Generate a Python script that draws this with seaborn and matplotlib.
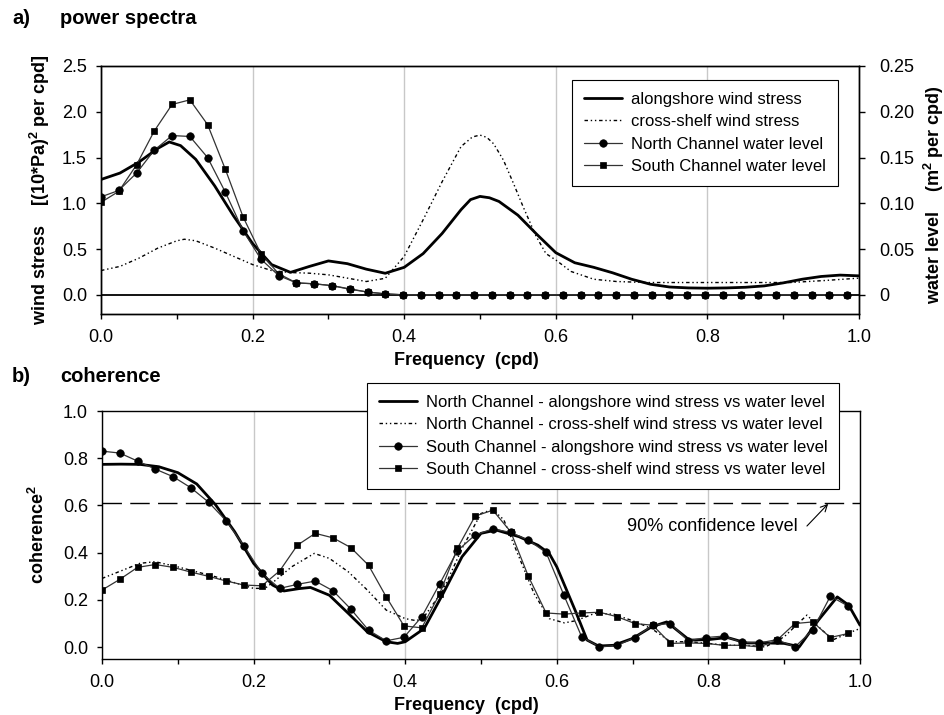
import matplotlib
matplotlib.use("Agg")
import matplotlib.pyplot as plt
import seaborn as sns
from matplotlib.ticker import MultipleLocator, FormatStrFormatter

# ---------------- data ----------------
# spectral estimate frequencies (cpd) for the water-level / marker series
freq = [0.0000, 0.0234, 0.0469, 0.0703, 0.0938, 0.1172, 0.1406, 0.1641, 0.1875,
        0.2109, 0.2344, 0.2578, 0.2813, 0.3047, 0.3281, 0.3516, 0.3750, 0.3984,
        0.4219, 0.4453, 0.4688, 0.4922, 0.5156, 0.5391, 0.5625, 0.5859, 0.6094,
        0.6328, 0.6563, 0.6797, 0.7031, 0.7266, 0.7500, 0.7734, 0.7969, 0.8203,
        0.8438, 0.8672, 0.8906, 0.9141, 0.9375, 0.9609, 0.9844]

# power spectra: wind stress [(10*Pa)^2 per cpd]
along_freq = [0.000, 0.025, 0.050, 0.075, 0.090, 0.105, 0.125, 0.150, 0.175, 0.200,
              0.225, 0.250, 0.275, 0.300, 0.325, 0.350, 0.375, 0.400, 0.425, 0.450,
              0.475, 0.4875, 0.500, 0.5125, 0.525, 0.550, 0.575, 0.600, 0.625, 0.650,
              0.675, 0.700, 0.725, 0.750, 0.775, 0.800, 0.825, 0.850, 0.875, 0.900,
              0.925, 0.950, 0.975, 1.000]
alongshore_ws = [1.26, 1.33, 1.45, 1.60, 1.67, 1.63, 1.48, 1.19, 0.86, 0.56,
                 0.33, 0.245, 0.31, 0.37, 0.34, 0.28, 0.235, 0.30, 0.45, 0.67,
                 0.93, 1.04, 1.075, 1.06, 1.02, 0.87, 0.66, 0.46, 0.35, 0.30,
                 0.24, 0.17, 0.115, 0.085, 0.075, 0.072, 0.075, 0.082, 0.097, 0.13,
                 0.17, 0.20, 0.215, 0.207]

cross_freq = [0.000, 0.025, 0.050, 0.075, 0.100, 0.110, 0.125, 0.150, 0.175, 0.200,
              0.225, 0.250, 0.275, 0.300, 0.325, 0.350, 0.375, 0.400, 0.425, 0.450,
              0.475, 0.490, 0.500, 0.509, 0.518, 0.531, 0.544, 0.557, 0.574, 0.587,
              0.600, 0.620, 0.650, 0.680, 0.720, 0.800, 0.910, 0.955, 1.000]
crossshelf_ws = [0.265, 0.31, 0.40, 0.51, 0.59, 0.607, 0.59, 0.51, 0.42, 0.33,
                 0.265, 0.243, 0.236, 0.218, 0.182, 0.145, 0.18, 0.42, 0.82, 1.235,
                 1.62, 1.725, 1.745, 1.72, 1.65, 1.47, 1.22, 0.96, 0.64, 0.45,
                 0.38, 0.255, 0.17, 0.145, 0.134, 0.134, 0.134, 0.156, 0.182]

# power spectra: water level (m^2 per cpd)
north_wl = [0.107, 0.114, 0.133, 0.158, 0.174, 0.173, 0.150, 0.112, 0.070, 0.039,
            0.021, 0.013, 0.012, 0.010, 0.0065, 0.003, 0.001, 0.0, 0.0, 0.0,
            0.0, 0.0, 0.0, 0.0, 0.0, 0.0, 0.0, 0.0, 0.0, 0.0,
            0.0, 0.0, 0.0, 0.0, 0.0, 0.0, 0.0, 0.0, 0.0, 0.0,
            0.0, 0.0, 0.0]
south_wl = [0.101, 0.113, 0.142, 0.179, 0.208, 0.213, 0.186, 0.137, 0.085, 0.045,
            0.023, 0.013, 0.012, 0.010, 0.006, 0.003, 0.001, 0.0, 0.0, 0.0,
            0.0, 0.0, 0.0, 0.0, 0.0, 0.0, 0.0, 0.0, 0.0, 0.0,
            0.0, 0.0, 0.0, 0.0, 0.0, 0.0, 0.0, 0.0, 0.0, 0.0,
            0.0, 0.0, 0.0]

# coherence^2
nc_along_freq = [0.000, 0.025, 0.050, 0.075, 0.100, 0.125, 0.150, 0.175, 0.200, 0.225,
                 0.240, 0.260, 0.275, 0.300, 0.325, 0.350, 0.375, 0.390, 0.400, 0.425,
                 0.450, 0.475, 0.500, 0.520, 0.550, 0.575, 0.590, 0.600, 0.625, 0.640,
                 0.655, 0.675, 0.700, 0.725, 0.745, 0.775, 0.800, 0.825, 0.850, 0.875,
                 0.900, 0.920, 0.945, 0.970, 0.985, 1.000]
nc_along = [0.774, 0.775, 0.774, 0.764, 0.739, 0.691, 0.602, 0.489, 0.355, 0.263,
            0.238, 0.248, 0.253, 0.22, 0.143, 0.065, 0.023, 0.016, 0.023, 0.079,
            0.227, 0.383, 0.482, 0.496, 0.468, 0.432, 0.397, 0.34, 0.15, 0.03,
            0.005, 0.008, 0.037, 0.086, 0.107, 0.03, 0.032, 0.041, 0.018, 0.018,
            0.016, 0.002, 0.114, 0.213, 0.178, 0.093]

nc_cross_freq = [0.000, 0.025, 0.050, 0.070, 0.100, 0.125, 0.150, 0.175, 0.200, 0.215,
                 0.225, 0.250, 0.280, 0.300, 0.325, 0.350, 0.375, 0.400, 0.415, 0.425,
                 0.450, 0.475, 0.500, 0.515, 0.530, 0.550, 0.570, 0.590, 0.610, 0.625,
                 0.650, 0.675, 0.700, 0.725, 0.750, 0.775, 0.800, 0.825, 0.850, 0.875,
                 0.900, 0.930, 0.950, 0.965, 0.985, 1.000]
nc_cross = [0.291, 0.323, 0.355, 0.362, 0.34, 0.319, 0.298, 0.273, 0.249, 0.249,
            0.273, 0.34, 0.397, 0.376, 0.319, 0.242, 0.157, 0.121, 0.112, 0.129,
            0.242, 0.418, 0.566, 0.583, 0.54, 0.383, 0.227, 0.121, 0.103, 0.112,
            0.143, 0.14, 0.112, 0.079, 0.023, 0.023, 0.016, 0.008, 0.008, 0.001,
            0.044, 0.136, 0.072, 0.032, 0.06, 0.079]

sc_along = [0.830, 0.822, 0.788, 0.754, 0.722, 0.675, 0.614, 0.534, 0.428, 0.312,
            0.249, 0.266, 0.280, 0.239, 0.162, 0.072, 0.027, 0.042, 0.129, 0.267,
            0.408, 0.475, 0.501, 0.486, 0.453, 0.401, 0.220, 0.044, 0.001, 0.008,
            0.041, 0.093, 0.100, 0.027, 0.041, 0.047, 0.021, 0.018, 0.032, 0.001,
            0.072, 0.216, 0.174]
sc_cross = [0.242, 0.287, 0.338, 0.350, 0.338, 0.318, 0.300, 0.280, 0.263, 0.260,
            0.323, 0.432, 0.482, 0.463, 0.422, 0.347, 0.213, 0.090, 0.082, 0.225,
            0.418, 0.555, 0.580, 0.489, 0.300, 0.145, 0.140, 0.145, 0.148, 0.129,
            0.100, 0.093, 0.016, 0.018, 0.016, 0.008, 0.008, 0.001, 0.030, 0.100,
            0.107, 0.041, 0.058]

conf_level = 0.61
wl_ticks = [0.0, 0.05, 0.10, 0.15, 0.20, 0.25]
wl_tick_labels = ["0", "0.05", "0.10", "0.15", "0.20", "0.25"]

# ---------------- style ----------------
sns.set_theme(style="ticks")
plt.rcParams["font.family"] = ["Liberation Sans", "DejaVu Sans"]
plt.rcParams.update({
    "mathtext.fontset": "custom",
    "mathtext.rm": "Liberation Sans",
    "mathtext.bf": "Liberation Sans:bold",
    "text.color": "black",
    "axes.edgecolor": "black",
    "axes.labelcolor": "black",
    "xtick.color": "black",
    "ytick.color": "black",
})

THICK = dict(color="black", lw=2.0)
DOTTED = dict(color="black", lw=1.0, linestyle=(0, (2.5, 2, 1, 2, 1, 2)))
THIN = dict(color="#333333", lw=0.9)
CIRC = dict(marker="o", markersize=5.4, markerfacecolor="black", markeredgecolor="black", markeredgewidth=0.5)
SQR = dict(marker="s", markersize=4.3, markerfacecolor="black", markeredgecolor="black", markeredgewidth=0.5)

W, H = 945, 715
fig = plt.figure(figsize=(W / 100, H / 100), dpi=100)
fig.patch.set_facecolor("white")


def px_rect(left, top, right, bottom):
    return [left / W, 1 - bottom / H, (right - left) / W, (bottom - top) / H]


ax_a = fig.add_axes(px_rect(101, 66, 859, 314))
ax_a2 = ax_a.twinx()
ax_b = fig.add_axes(px_rect(102, 411, 860, 659))


def line(ax, x, y, label, **kw):
    sns.lineplot(x=x, y=y, ax=ax, label=label, legend=False, errorbar=None, sort=False, **kw)


# ---------------- a) power spectra ----------------
ax_a.grid(axis="x", which="major", color="#c8c8c8", lw=1.0)
ax_a.axhline(0, color="black", lw=1.3, zorder=1.8)
line(ax_a, along_freq, alongshore_ws, "alongshore wind stress", **THICK)
line(ax_a, cross_freq, crossshelf_ws, "cross-shelf wind stress", **DOTTED)
line(ax_a2, freq, south_wl, "South Channel water level", **THIN, **SQR)
line(ax_a2, freq, north_wl, "North Channel water level", **THIN, **CIRC)

ax_a.set_ylim(-0.21, 2.5)
ax_a2.set_ylim(-0.021, 0.25)
ax_a.yaxis.set_major_locator(MultipleLocator(0.5))
ax_a.yaxis.set_major_formatter(FormatStrFormatter("%.1f"))
ax_a2.set_yticks(wl_ticks, wl_tick_labels)

# ---------------- b) coherence ----------------
ax_b.grid(axis="x", which="major", color="#c8c8c8", lw=1.0)
ax_b.axhline(conf_level, color="black", lw=1.0, linestyle=(0, (14, 6)), zorder=1.5)
line(ax_b, nc_along_freq, nc_along, "North Channel - alongshore wind stress vs water level", **THICK)
line(ax_b, nc_cross_freq, nc_cross, "North Channel - cross-shelf wind stress vs water level", **DOTTED)
line(ax_b, freq, sc_along, "South Channel - alongshore wind stress vs water level", **THIN, **CIRC)
line(ax_b, freq, sc_cross, "South Channel - cross-shelf wind stress vs water level", **THIN, **SQR)
ax_b.set_ylim(-0.05, 1.0)
ax_b.yaxis.set_major_locator(MultipleLocator(0.2))
ax_b.yaxis.set_major_formatter(FormatStrFormatter("%.1f"))

ax_b.text(0.805, 0.51, "90% confidence level", ha="center", va="center", fontsize=13)
ax_b.annotate("", xy=(0.958, 0.607), xytext=(0.93, 0.513),
              arrowprops=dict(arrowstyle="->", lw=0.8, color="black", shrinkA=0, shrinkB=0))

# ---------------- axes cosmetics ----------------
for ax in (ax_a, ax_b):
    ax.set_xlim(0, 1)
    ax.xaxis.set_major_locator(MultipleLocator(0.2))
    ax.xaxis.set_minor_locator(MultipleLocator(0.1))
    ax.xaxis.set_major_formatter(FormatStrFormatter("%.1f"))
    ax.tick_params(axis="x", which="both", direction="out", length=3.6, width=1.0,
                   pad=7, labelsize=13, top=False, bottom=True)
    ax.tick_params(axis="y", which="both", direction="out", length=3.6, width=1.0,
                   pad=6.5, labelsize=13, left=True, right=False)
    ax.set_xlabel("")
    ax.set_ylabel("")
    for sp in ax.spines.values():
        sp.set_visible(True)
        sp.set_color("black")
        sp.set_linewidth(1.0)

ax_a2.tick_params(axis="y", direction="out", length=4.5, width=1.0, pad=10, labelsize=13,
                  right=True, left=False)
ax_a2.set_ylabel("")
for sp in ax_a2.spines.values():
    sp.set_color("black")
    sp.set_linewidth(1.0)

# ---------------- legends ----------------
leg_kw = dict(loc="upper left", bbox_transform=fig.transFigure, borderaxespad=0,
              frameon=True, fancybox=False, edgecolor="black", framealpha=1,
              fontsize=12.0, handlelength=2.3, handletextpad=0.55,
              labelspacing=0.45, borderpad=0.7)

h1, l1 = ax_a.get_legend_handles_labels()
h2, l2 = ax_a2.get_legend_handles_labels()
leg_a = ax_a2.legend(h1 + h2[::-1], l1 + l2[::-1],
                     bbox_to_anchor=(572 / W, 1 - 80 / H), **leg_kw)
leg_a.get_frame().set_linewidth(0.8)

hb, lb = ax_b.get_legend_handles_labels()
leg_b = ax_b.legend(hb, lb, bbox_to_anchor=(367 / W, 1 - 383 / H), **leg_kw)
leg_b.get_frame().set_linewidth(0.8)
leg_b.set_zorder(10)

# ---------------- titles and axis labels ----------------
title_kw = dict(fontsize=14.5, fontweight="bold", va="center", ha="left")
fig.text(12 / W, 1 - 18 / H, "a)", **title_kw)
fig.text(60 / W, 1 - 18 / H, "power spectra", **title_kw)
fig.text(12 / W, 1 - 377 / H, "b)", **title_kw)
fig.text(60 / W, 1 - 377 / H, "coherence", **title_kw)

lab_kw = dict(fontsize=13, fontweight="bold", va="center", ha="center")
fig.text(466 / W, 1 - 360 / H, "Frequency  (cpd)", **lab_kw)
fig.text(466 / W, 1 - 705 / H, "Frequency  (cpd)", **lab_kw)
fig.text(40 / W, 1 - 190 / H, "wind stress    [(10*Pa)$^{\\mathbf{2}}$ per cpd]", rotation=90, **lab_kw)
fig.text(934 / W, 1 - 195 / H, "water level    (m$^{\\mathbf{2}}$ per cpd)", rotation=90, **lab_kw)
fig.text(38 / W, 1 - 535 / H, "coherence$^{\\mathbf{2}}$", rotation=90, **lab_kw)

fig.savefig("out.png", dpi=100, facecolor="white")
